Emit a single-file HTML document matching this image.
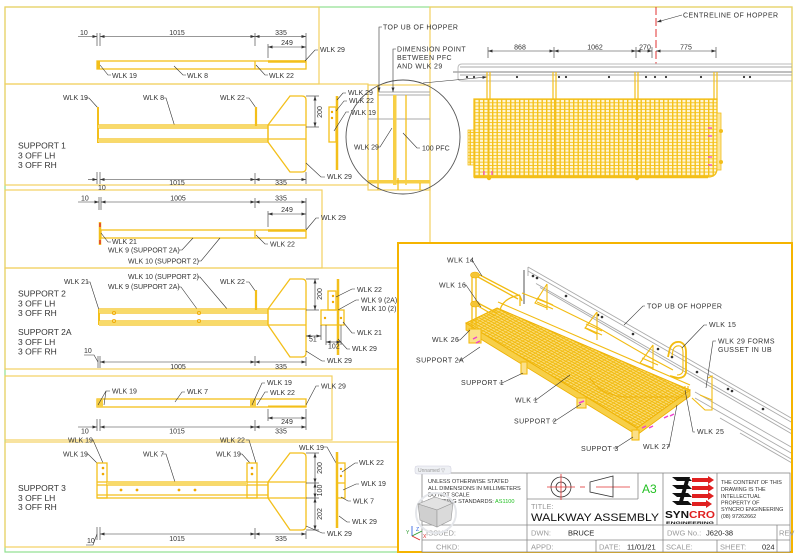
<!DOCTYPE html>
<html><head><meta charset="utf-8"><style>
html,body{margin:0;padding:0;background:#fff;}
svg{display:block;}
.t{font-family:"Liberation Sans",Arial,sans-serif;font-size:7px;fill:#333;}
.s{font-family:"Liberation Sans",Arial,sans-serif;font-size:8.5px;fill:#333;}
.c{text-anchor:middle;}
.i{letter-spacing:0.4px;}
.fr{fill:none;stroke:#f2d061;stroke-width:1.2;}
.m{fill:none;stroke:#f3bf1a;stroke-width:1.3;}
.mf{fill:#f3bf1a;}
.dm{stroke:#333;stroke-width:0.6;fill:none;}
.ld{stroke:#333;stroke-width:0.6;fill:none;}
.gb{stroke:#aaa;stroke-width:0.9;fill:none;}
.tb{stroke:#888;stroke-width:0.8;fill:none;}
</style></head><body>
<svg width="800" height="560" viewBox="0 0 800 560" xmlns="http://www.w3.org/2000/svg">
<defs>
<marker id="ar" viewBox="0 0 6 4" refX="6" refY="2" markerWidth="4.5" markerHeight="3" markerUnits="userSpaceOnUse" orient="auto-start-reverse"><path d="M0,0L6,2L0,4z" fill="#333"/></marker>
<pattern id="grate" width="4.5" height="3.3" patternUnits="userSpaceOnUse" x="474" y="99">
<rect width="4.5" height="3.3" fill="#fff6d6"/>
<rect x="0" y="0" width="1.4" height="3.3" fill="#f5c21a"/>
<rect x="0" y="0" width="4.5" height="0.9" fill="#f5c21a"/>
</pattern>
<pattern id="dA" width="10" height="2.4" patternUnits="userSpaceOnUse" patternTransform="rotate(28)">
<rect width="10" height="1" fill="#f0b90c"/>
</pattern>
<pattern id="dB" width="3.4" height="10" patternUnits="userSpaceOnUse" patternTransform="rotate(56)">
<rect width="0.9" height="10" fill="#f0b90c"/>
</pattern>
</defs>
<rect width="800" height="560" fill="#fff"/>

<rect x="5" y="7" width="787" height="545" fill="none" stroke="#8fe08f" stroke-width="1.2"/>
<rect x="5" y="7" width="314" height="77" class="fr"/>
<rect x="5" y="84" width="363" height="101" class="fr"/>
<rect x="368" y="85" width="62" height="105" class="fr"/>
<rect x="5" y="190" width="317" height="78" class="fr"/>
<rect x="5" y="268" width="393" height="101" class="fr"/>
<rect x="5" y="376" width="327" height="64" class="fr"/>
<rect x="5" y="442" width="393" height="105" class="fr"/>
<rect x="430" y="7" width="362" height="236" class="fr"/>

<!-- BOX 1 -->
<line x1="78" y1="36.5" x2="97" y2="36.5" class="dm" marker-end="url(#ar)"/>
<line x1="97" y1="33" x2="97" y2="46" class="dm" stroke-width="1"/>
<line x1="100" y1="33" x2="100" y2="46" class="dm" stroke-width="1"/>
<line x1="100" y1="36.5" x2="255" y2="36.5" class="dm" marker-start="url(#ar)" marker-end="url(#ar)"/>
<line x1="255" y1="33" x2="255" y2="46" class="dm"/>
<line x1="255" y1="36.5" x2="306" y2="36.5" class="dm" marker-start="url(#ar)" marker-end="url(#ar)"/>
<line x1="306" y1="33" x2="306" y2="60" class="dm"/>
<line x1="268" y1="44" x2="268" y2="58" class="dm"/>
<line x1="268" y1="47" x2="306" y2="47" class="dm" marker-start="url(#ar)" marker-end="url(#ar)"/>
<text x="80" y="35" class="t">10</text>
<text x="177" y="35" class="t c">1015</text>
<text x="281" y="35" class="t c">335</text>
<text x="287" y="45" class="t c">249</text>
<rect x="97" y="61" width="209" height="8" class="m"/>
<rect x="97" y="61" width="3" height="8" class="mf"/>
<line x1="268" y1="61.5" x2="306" y2="61.5" stroke="#f3bf1a" stroke-width="2.5"/>
<line x1="255" y1="61" x2="255" y2="69" class="m"/>
<polyline points="100,65 108,75 111,75" class="ld"/><text x="112" y="78" class="t">WLK 19</text>
<polyline points="174,66 183,75 186,75" class="ld"/><text x="187" y="78" class="t">WLK 8</text>
<polyline points="256,65 265,75 268,75" class="ld"/><text x="269" y="78" class="t">WLK 22</text>
<polyline points="305,61 315,50 318,50" class="ld"/><text x="320" y="52" class="t">WLK 29</text>

<!-- BOX 2 -->
<polyline points="85,98 89,98 98,108" class="ld"/><text x="63" y="100" class="t">WLK 19</text>
<polyline points="163,98 166,98 175,127" class="ld"/><text x="143" y="100" class="t">WLK 8</text>
<polyline points="246,98 249,98 256,108" class="ld"/><text x="220" y="100" class="t">WLK 22</text>
<line x1="98" y1="107" x2="98" y2="143" stroke="#f3bf1a" stroke-width="2"/>
<path d="M98,125H306M98,128H268M98,139H306M98,142H268" class="m"/>
<rect x="98" y="125" width="170" height="3" fill="#f8da6a"/>
<rect x="98" y="139" width="170" height="3" fill="#f8da6a"/>
<line x1="256" y1="107" x2="256" y2="126" stroke="#f3bf1a" stroke-width="2.2"/>
<path d="M268,125L290,96L302,96Q306,96 306,100L306,168Q306,172 302,172L290,172L268,142Z" class="m"/>
<line x1="268" y1="125" x2="268" y2="142" class="m"/>
<line x1="306" y1="96" x2="319" y2="96" class="dm"/>
<line x1="306" y1="127" x2="319" y2="127" class="dm"/>
<line x1="315" y1="96" x2="315" y2="127" class="dm" marker-start="url(#ar)" marker-end="url(#ar)"/>
<text x="322" y="112" class="t c" transform="rotate(-90 322 112)">200</text>
<line x1="337" y1="96" x2="337" y2="170" stroke="#f3bf1a" stroke-width="2.5"/>
<rect x="329" y="107" width="7" height="35" class="m"/>
<circle cx="332" cy="112" r="1.2" fill="#f0a800"/><circle cx="332" cy="118" r="1.2" fill="#f0a800"/>
<polyline points="346,93 343,93 337,100" class="ld"/><text x="348" y="95" class="t">WLK 29</text>
<polyline points="347,101 344,101 336,111" class="ld"/><text x="349" y="103" class="t">WLK 22</text>
<polyline points="349,112 346,112 334,131" class="ld"/><text x="351" y="115" class="t">WLK 19</text>
<polyline points="325,177 321,177 306,163" class="ld"/><text x="327" y="179" class="t">WLK 29</text>
<text x="18" y="148.5" class="s">SUPPORT 1</text>
<text x="18" y="158.5" class="s">3 OFF LH</text>
<text x="18" y="168" class="s">3 OFF RH</text>
<line x1="88" y1="179.5" x2="97" y2="179.5" class="dm" marker-end="url(#ar)"/>
<line x1="97" y1="172" x2="97" y2="184" class="dm" stroke-width="1"/>
<line x1="100" y1="172" x2="100" y2="184" class="dm" stroke-width="1"/>
<line x1="100" y1="179.5" x2="255" y2="179.5" class="dm" marker-start="url(#ar)" marker-end="url(#ar)"/>
<line x1="255" y1="173" x2="255" y2="184" class="dm"/>
<line x1="255" y1="179.5" x2="306" y2="179.5" class="dm" marker-start="url(#ar)" marker-end="url(#ar)"/>
<line x1="306" y1="172" x2="306" y2="184" class="dm"/>
<text x="177" y="185" class="t c">1015</text>
<text x="281" y="185" class="t c">335</text>
<text x="98" y="190" class="t">10</text>

<!-- detail circle -->
<line x1="378" y1="92" x2="430" y2="92" class="gb"/>
<line x1="378" y1="95" x2="430" y2="95" class="gb"/>
<line x1="368" y1="119" x2="430" y2="119" class="gb"/>
<line x1="378" y1="85" x2="378" y2="190" class="m" stroke-width="1"/>
<rect x="393" y="95" width="3.5" height="90" fill="#f7cf45"/>
<line x1="406" y1="95" x2="406" y2="185" class="m" stroke-width="1"/>
<rect x="368" y="180" width="62" height="3.5" fill="#f7cf45"/>
<line x1="420" y1="183" x2="420" y2="190" class="m" stroke-width="1"/>
<line x1="398" y1="178" x2="398" y2="190" class="m" stroke-width="1"/>
<circle cx="403" cy="137" r="57" fill="none" stroke="#555" stroke-width="0.9"/>
<polyline points="376,147 380,147 392,128" class="ld"/><text x="354" y="149.5" class="t">WLK 29</text>
<polyline points="420,148 417,148 403,133" class="ld"/><text x="422" y="150.5" class="t">100 PFC</text>
<polyline points="382,27 379,27 379,92" class="ld" marker-end="url(#ar)"/>
<text x="383" y="29.5" class="t i">TOP UB OF HOPPER</text>
<polyline points="396,49 393,49 393,92" class="ld" marker-end="url(#ar)"/>
<text x="397" y="51.5" class="t i">DIMENSION POINT</text>
<text x="397" y="60" class="t i">BETWEEN PFC</text>
<text x="397" y="68.5" class="t i">AND WLK 29</text>

<!-- top right plan -->
<line x1="656" y1="7" x2="656" y2="64" stroke="#e03030" stroke-width="1" stroke-dasharray="8,3"/>
<polyline points="682,15 657,22" class="ld" marker-end="url(#ar)"/>
<text x="683" y="17.5" class="t i">CENTRELINE OF HOPPER</text>
<line x1="488" y1="47" x2="488" y2="58" class="dm"/>
<line x1="554" y1="47" x2="554" y2="58" class="dm"/>
<line x1="636" y1="47" x2="636" y2="58" class="dm"/>
<line x1="652" y1="47" x2="652" y2="58" class="dm"/>
<line x1="716" y1="47" x2="716" y2="58" class="dm"/>
<line x1="488" y1="51" x2="554" y2="51" class="dm" marker-start="url(#ar)" marker-end="url(#ar)"/>
<line x1="554" y1="51" x2="636" y2="51" class="dm" marker-start="url(#ar)" marker-end="url(#ar)"/>
<line x1="636" y1="51" x2="652" y2="51" class="dm" marker-start="url(#ar)" marker-end="url(#ar)"/>
<line x1="656" y1="51" x2="716" y2="51" class="dm" marker-start="url(#ar)" marker-end="url(#ar)"/>
<text x="520" y="49.5" class="t c">868</text>
<text x="595" y="49.5" class="t c">1062</text>
<text x="645" y="49.5" class="t c">270</text>
<text x="686" y="49.5" class="t c">775</text>
<path d="M792,64H462Q458,64 458,68V78Q458,81 462,81H792" fill="none" stroke="#bbb" stroke-width="1"/>
<line x1="460" y1="67" x2="792" y2="67" class="gb"/>
<line x1="453" y1="72" x2="792" y2="72" stroke="#aaa" stroke-width="1.4"/>
<line x1="460" y1="75" x2="792" y2="75" class="gb"/>
<g fill="#333">
<circle cx="467" cy="77" r="1.1"/><circle cx="474" cy="77" r="1.1"/><circle cx="517" cy="77" r="1.1"/>
<circle cx="559" cy="77" r="1.1"/><circle cx="566" cy="77" r="1.1"/><circle cx="609" cy="77" r="1.1"/>
<circle cx="646" cy="77" r="1.1"/><circle cx="655" cy="77" r="1.1"/><circle cx="666" cy="77" r="1.1"/>
<circle cx="701" cy="77" r="1.1"/><circle cx="744" cy="77" r="1.1"/><circle cx="750" cy="77" r="1.1"/>
</g>
<polyline points="423,83 487,77" class="ld" marker-end="url(#ar)"/>
<rect x="468" y="130" width="6" height="35" fill="url(#grate)" stroke="#f3bf1a" stroke-width="0.8"/>
<path d="M474,99H717V168Q717,177 708,177H474Z" fill="url(#grate)" stroke="#f3bf1a" stroke-width="1.3"/>
<line x1="474" y1="177" x2="708" y2="177" stroke="#f3bf1a" stroke-width="2.4"/>
<rect x="717" y="113" width="4" height="57" fill="#fbe69a" stroke="#f3bf1a" stroke-width="0.8"/>
<circle cx="721" cy="131" r="2" fill="#f3bf1a"/><circle cx="721" cy="162" r="2" fill="#f3bf1a"/>
<g stroke="#f3bf1a" stroke-width="1.2">
<line x1="487" y1="72" x2="487" y2="100"/><line x1="490" y1="72" x2="490" y2="100"/>
<line x1="553" y1="72" x2="553" y2="100"/><line x1="556" y1="72" x2="556" y2="100"/>
<line x1="635" y1="72" x2="635" y2="100"/><line x1="638" y1="72" x2="638" y2="100"/>
<line x1="714" y1="72" x2="714" y2="100"/><line x1="717" y1="72" x2="717" y2="100"/>
<line x1="488.5" y1="99" x2="488.5" y2="177" stroke-width="2"/>
<line x1="555" y1="99" x2="555" y2="177" stroke-width="2"/>
<line x1="637" y1="99" x2="637" y2="177" stroke-width="2"/>
</g>
<circle cx="489" cy="178" r="2.2" fill="#f3bf1a"/><circle cx="637" cy="178" r="2.2" fill="#f3bf1a"/>
<g stroke="#ee44cc" stroke-width="1.2">
<line x1="484" y1="171" x2="484" y2="175"/><line x1="492" y1="171" x2="492" y2="175"/>
<line x1="708" y1="128" x2="712" y2="128"/><line x1="708" y1="136" x2="712" y2="136"/>
<line x1="708" y1="157" x2="712" y2="157"/><line x1="708" y1="165" x2="712" y2="165"/>
</g>

<!-- BOX 3 -->
<line x1="78" y1="202" x2="99" y2="202" class="dm" marker-end="url(#ar)"/>
<line x1="99" y1="197" x2="99" y2="210" class="dm" stroke-width="1"/>
<line x1="101" y1="197" x2="101" y2="210" class="dm" stroke-width="1"/>
<line x1="101" y1="202" x2="255" y2="202" class="dm" marker-start="url(#ar)" marker-end="url(#ar)"/>
<line x1="255" y1="198" x2="255" y2="208" class="dm"/>
<line x1="255" y1="202" x2="306" y2="202" class="dm" marker-start="url(#ar)" marker-end="url(#ar)"/>
<line x1="306" y1="198" x2="306" y2="229" class="dm"/>
<line x1="268" y1="211" x2="268" y2="227" class="dm"/>
<line x1="268" y1="214" x2="306" y2="214" class="dm" marker-start="url(#ar)" marker-end="url(#ar)"/>
<text x="81" y="200.5" class="t">10</text>
<text x="178" y="200.5" class="t c">1005</text>
<text x="281" y="200.5" class="t c">335</text>
<text x="287" y="212" class="t c">249</text>
<rect x="101" y="230" width="205" height="8" class="m"/>
<line x1="268" y1="230.5" x2="306" y2="230.5" stroke="#f3bf1a" stroke-width="2.5"/>
<line x1="255" y1="230" x2="255" y2="238" class="m"/>
<line x1="100" y1="222" x2="100" y2="245" stroke="#f3bf1a" stroke-width="2.5"/>
<line x1="100" y1="223" x2="100" y2="227" stroke="#e03030" stroke-width="1.5"/>
<line x1="100" y1="240" x2="100" y2="244" stroke="#e03030" stroke-width="1.5"/>
<polyline points="101,233 108,242 111,242" class="ld"/><text x="112" y="244" class="t">WLK 21</text>
<polyline points="179,250 182,250 193,238" class="ld"/><text x="108" y="252.5" class="t">WLK 9 (SUPPORT 2A)</text>
<polyline points="198,261 201,261 220,238" class="ld"/><text x="128" y="263.5" class="t">WLK 10 (SUPPORT 2)</text>
<polyline points="256,235 265,244 268,244" class="ld"/><text x="270" y="246.5" class="t">WLK 22</text>
<polyline points="306,230 316,218 319,218" class="ld"/><text x="321" y="220" class="t">WLK 29</text>

<!-- BOX 4 -->
<polyline points="87,282 90,282 99,310" class="ld"/><text x="64" y="284" class="t">WLK 21</text>
<polyline points="197,277 200,277 228,310" class="ld"/><text x="128" y="279" class="t">WLK 10 (SUPPORT 2)</text>
<polyline points="178,287 181,287 200,313" class="ld"/><text x="108" y="289" class="t">WLK 9 (SUPPORT 2A)</text>
<polyline points="246,282 249,282 256,292" class="ld"/><text x="220" y="284" class="t">WLK 22</text>
<line x1="99" y1="309" x2="99" y2="325" stroke="#f3bf1a" stroke-width="2"/>
<path d="M99,309H306M99,313H268M99,321H268M99,325H306" class="m"/>
<rect x="99" y="309" width="169" height="4" fill="#f8da6a"/>
<rect x="99" y="321" width="169" height="4" fill="#f8da6a"/>
<g fill="none" stroke="#f0a800" stroke-width="0.8">
<circle cx="114" cy="313" r="1.6"/><circle cx="114" cy="321" r="1.6"/>
<circle cx="199" cy="313" r="1.6"/><circle cx="199" cy="321" r="1.6"/>
</g>
<line x1="256" y1="290" x2="256" y2="310" stroke="#f3bf1a" stroke-width="2.2"/>
<path d="M268,309L290,279L302,279Q306,279 306,283L306,353Q306,357 302,357L290,357L268,325Z" class="m"/>
<line x1="268" y1="309" x2="268" y2="325" class="m"/>
<line x1="306" y1="279" x2="319" y2="279" class="dm"/>
<line x1="306" y1="310" x2="319" y2="310" class="dm"/>
<line x1="315" y1="279" x2="315" y2="310" class="dm" marker-start="url(#ar)" marker-end="url(#ar)"/>
<text x="322" y="294" class="t c" transform="rotate(-90 322 294)">200</text>
<line x1="338" y1="279" x2="338" y2="355" stroke="#f3bf1a" stroke-width="2.5"/>
<rect x="328" y="291" width="8" height="19" class="m"/>
<rect x="321" y="310" width="23" height="15" class="m"/>
<g fill="#f0a800"><circle cx="333" cy="296" r="1.2"/><circle cx="333" cy="302" r="1.2"/><circle cx="325" cy="318" r="1.2"/><circle cx="341" cy="318" r="1.2"/></g>
<line x1="321" y1="325" x2="321" y2="340" class="dm"/>
<line x1="306" y1="336" x2="321" y2="336" class="dm" marker-start="url(#ar)" marker-end="url(#ar)"/>
<text x="309" y="341.5" class="t">51</text>
<line x1="326" y1="325" x2="326" y2="345" class="dm"/>
<line x1="341" y1="325" x2="341" y2="345" class="dm"/>
<line x1="326" y1="342" x2="341" y2="342" class="dm" marker-start="url(#ar)" marker-end="url(#ar)"/>
<text x="328" y="348.5" class="t">102</text>
<polyline points="355,289 352,289 336,297" class="ld"/><text x="357" y="292" class="t">WLK 22</text>
<polyline points="359,300 356,300 338,310" class="ld"/><text x="361" y="302.5" class="t">WLK 9 (2A)</text>
<text x="361" y="311" class="t">WLK 10 (2)</text>
<polyline points="355,333 352,333 343,322" class="ld"/><text x="357" y="335" class="t">WLK 21</text>
<polyline points="350,349 347,349 338,339" class="ld"/><text x="352" y="351" class="t">WLK 29</text>
<polyline points="325,361 322,361 306,351" class="ld"/><text x="327" y="363" class="t">WLK 29</text>
<text x="18" y="296.5" class="s">SUPPORT 2</text>
<text x="18" y="306.5" class="s">3 OFF LH</text>
<text x="18" y="316" class="s">3 OFF RH</text>
<text x="18" y="335" class="s">SUPPORT 2A</text>
<text x="18" y="345" class="s">3 OFF LH</text>
<text x="18" y="354.5" class="s">3 OFF RH</text>
<polyline points="84,355 94,355 98,362" class="ld"/>
<text x="84" y="353" class="t">10</text>
<line x1="98" y1="356" x2="98" y2="368" class="dm" stroke-width="1"/>
<line x1="100" y1="356" x2="100" y2="368" class="dm" stroke-width="1"/>
<line x1="100" y1="362" x2="255" y2="362" class="dm" marker-start="url(#ar)" marker-end="url(#ar)"/>
<line x1="255" y1="356" x2="255" y2="366" class="dm"/>
<line x1="255" y1="362" x2="306" y2="362" class="dm" marker-start="url(#ar)" marker-end="url(#ar)"/>
<line x1="306" y1="357" x2="306" y2="366" class="dm"/>
<text x="178" y="369" class="t c">1005</text>
<text x="281" y="369" class="t c">335</text>

<!-- BOX 5 -->
<rect x="97" y="399" width="209" height="8" class="m"/>
<rect x="97" y="399" width="6" height="8" fill="#f7cf45"/>
<rect x="250" y="399" width="6" height="8" fill="#f7cf45"/>
<line x1="268" y1="406.5" x2="306" y2="406.5" stroke="#f3bf1a" stroke-width="2"/>
<polyline points="110,391 106,391 98,405" class="ld"/><polyline points="106,391 104,405" class="ld"/>
<text x="112" y="393.5" class="t">WLK 19</text>
<polyline points="185,392 182,392 175,402" class="ld"/><text x="187" y="394" class="t">WLK 7</text>
<polyline points="265,383 262,383 252,405" class="ld"/><text x="267" y="385" class="t">WLK 19</text>
<polyline points="268,392 265,392 257,405" class="ld"/><text x="270" y="395" class="t">WLK 22</text>
<polyline points="319,386 316,386 306,405" class="ld"/><text x="321" y="388.5" class="t">WLK 29</text>
<line x1="268" y1="409" x2="268" y2="421" class="dm"/>
<line x1="306" y1="409" x2="306" y2="430" class="dm"/>
<line x1="268" y1="418" x2="306" y2="418" class="dm" marker-start="url(#ar)" marker-end="url(#ar)"/>
<text x="287" y="424" class="t c">249</text>
<line x1="78" y1="427" x2="97" y2="427" class="dm" marker-end="url(#ar)"/>
<line x1="97" y1="419" x2="97" y2="431" class="dm" stroke-width="1"/>
<line x1="100" y1="419" x2="100" y2="431" class="dm" stroke-width="1"/>
<line x1="100" y1="427" x2="255" y2="427" class="dm" marker-start="url(#ar)" marker-end="url(#ar)"/>
<line x1="255" y1="420" x2="255" y2="431" class="dm"/>
<line x1="255" y1="427" x2="306" y2="427" class="dm" marker-start="url(#ar)" marker-end="url(#ar)"/>
<text x="81" y="433.5" class="t">10</text>
<text x="177" y="433.5" class="t c">1015</text>
<text x="281" y="433.5" class="t c">335</text>

<!-- BOX 6 -->
<polyline points="90,440 93,440 103,463" class="ld"/><text x="68" y="442.5" class="t">WLK 19</text>
<polyline points="246,440 249,440 256,463" class="ld"/><text x="220" y="442.5" class="t">WLK 22</text>
<polyline points="85,454 88,454 97,463" class="ld"/><text x="63" y="456.5" class="t">WLK 19</text>
<polyline points="163,454 166,454 175,482" class="ld"/><text x="143" y="456.5" class="t">WLK 7</text>
<polyline points="239,454 242,454 250,463" class="ld"/><text x="216" y="456.5" class="t">WLK 19</text>
<polyline points="323,447 327,447 336,463" class="ld"/><text x="299" y="450" class="t">WLK 19</text>
<rect x="97" y="463" width="10" height="35" class="m"/>
<rect x="247" y="463" width="10" height="35" class="m"/>
<path d="M97,482H306M97,485H268M97,495H268M97,498H306" class="m"/>
<rect x="107" y="482" width="140" height="3" fill="#f8da6a"/>
<g fill="#f0a800">
<circle cx="103" cy="468" r="1.3"/><circle cx="103" cy="474" r="1.3"/>
<circle cx="252" cy="468" r="1.3"/><circle cx="252" cy="474" r="1.3"/>
<circle cx="121" cy="490" r="1.4"/><circle cx="137" cy="490" r="1.4"/>
<circle cx="179" cy="490" r="1.4"/><circle cx="195" cy="490" r="1.4"/>
</g>
<path d="M268,482L290,453L302,453Q306,453 306,457L306,526Q306,530 302,530L290,530L268,498Z" class="m"/>
<line x1="268" y1="482" x2="268" y2="498" class="m"/>
<line x1="306" y1="453" x2="319" y2="453" class="dm"/>
<line x1="306" y1="483" x2="319" y2="483" class="dm"/>
<line x1="306" y1="498" x2="319" y2="498" class="dm"/>
<line x1="306" y1="530" x2="319" y2="530" class="dm"/>
<line x1="315" y1="453" x2="315" y2="483" class="dm" marker-start="url(#ar)" marker-end="url(#ar)"/>
<line x1="315" y1="483" x2="315" y2="498" class="dm" marker-start="url(#ar)" marker-end="url(#ar)"/>
<line x1="315" y1="498" x2="315" y2="530" class="dm" marker-start="url(#ar)" marker-end="url(#ar)"/>
<text x="322" y="468" class="t c" transform="rotate(-90 322 468)">200</text>
<text x="322" y="490.5" class="t c" transform="rotate(-90 322 490.5)">100</text>
<text x="322" y="514" class="t c" transform="rotate(-90 322 514)">202</text>
<line x1="337" y1="452" x2="337" y2="528" stroke="#f3bf1a" stroke-width="2.5"/>
<rect x="337" y="463" width="8" height="35" class="m"/>
<line x1="337" y1="483" x2="345" y2="483" class="m" stroke-width="0.8"/>
<circle cx="341" cy="469" r="1.2" fill="#f0a800"/><circle cx="341" cy="476" r="1.2" fill="#f0a800"/>
<polyline points="358,463 355,463 342,472" class="ld"/><text x="359" y="465" class="t">WLK 22</text>
<polyline points="359,484 356,484 343,490" class="ld"/><text x="361" y="486" class="t">WLK 19</text>
<polyline points="351,501 348,501 341,497" class="ld"/><text x="353" y="503.5" class="t">WLK 7</text>
<polyline points="350,522 347,522 339,516" class="ld"/><text x="352" y="524" class="t">WLK 29</text>
<polyline points="325,533 322,533 306,526" class="ld"/><text x="327" y="536" class="t">WLK 29</text>
<text x="18" y="491" class="s">SUPPORT 3</text>
<text x="18" y="501" class="s">3 OFF LH</text>
<text x="18" y="510" class="s">3 OFF RH</text>
<polyline points="86,545 93,545 97,534" class="ld"/>
<text x="87" y="543" class="t">10</text>
<line x1="97" y1="527" x2="97" y2="540" class="dm" stroke-width="1"/>
<line x1="100" y1="527" x2="100" y2="540" class="dm" stroke-width="1"/>
<line x1="100" y1="534" x2="255" y2="534" class="dm" marker-start="url(#ar)" marker-end="url(#ar)"/>
<line x1="255" y1="528" x2="255" y2="539" class="dm"/>
<line x1="255" y1="534" x2="306" y2="534" class="dm" marker-start="url(#ar)" marker-end="url(#ar)"/>
<line x1="306" y1="531" x2="306" y2="539" class="dm"/>
<text x="177" y="541" class="t c">1015</text>
<text x="281" y="541" class="t c">335</text>

<!-- ISO VIEW -->
<g class="gb">
<line x1="528" y1="267" x2="792" y2="418.5"/>
<line x1="528" y1="271" x2="792" y2="422.5"/>
<line x1="536" y1="283.5" x2="792" y2="430.5"/>
<line x1="540" y1="287.5" x2="792" y2="434"/>
<line x1="695" y1="392" x2="792" y2="447.5"/>
<line x1="695" y1="398" x2="792" y2="453.5"/>
<line x1="720" y1="418" x2="792" y2="459.5"/>
<line x1="740" y1="433" x2="792" y2="463"/>
<line x1="528" y1="267" x2="528" y2="276"/>
</g>
<line x1="524" y1="270" x2="524" y2="304" stroke="#555" stroke-width="1"/>
<g fill="#333">
<circle cx="533" cy="276" r="1.3"/><circle cx="537" cy="278" r="1.3"/><circle cx="566" cy="296" r="1.3"/>
<circle cx="598" cy="315" r="1.3"/><circle cx="602" cy="317" r="1.3"/><circle cx="633" cy="334" r="1.3"/>
<circle cx="658" cy="349" r="1.3"/><circle cx="672" cy="357" r="1.3"/><circle cx="697" cy="372" r="1.3"/>
<circle cx="728" cy="389" r="1.3"/><circle cx="732" cy="391" r="1.3"/><circle cx="763" cy="409" r="1.3"/>
</g>
<g stroke="#f2bb12" stroke-width="1.1" fill="none">
<path d="M522,293L550,304L597,327L647,356L673,370"/>
<line x1="498" y1="302" x2="690" y2="385"/>
<path d="M547,284V310M547,284L535,303L547,308"/>
<path d="M537,298L553,305M537,302L553,309"/>
<path d="M597,312V340M597,312L585,328L597,334"/>
<path d="M586,324L602,331M586,328L602,335"/>
<path d="M653,345V370M653,345L640,363L653,368"/>
<path d="M642,358L658,365"/>
<path d="M668,357L670,348Q673,341 680,342Q686,344 686,352V372Q685,378 678,378L670,376" stroke-width="1.8"/>
<path d="M672,356L673,350Q675,345 680,346Q683,347 683,353V371Q682,375 677,375"/>
<path d="M708,378L712,376V410L705,410L692,398"/>
<path d="M700,395L712,400"/>
<line x1="685" y1="386" x2="685" y2="400"/>
<line x1="688" y1="386" x2="688" y2="398"/>
</g>
<polygon points="466,323 637,428 637,435 466,330" fill="#f7cf48" stroke="#eeb000" stroke-width="0.8"/>
<polygon points="637,428 690,390 690,396 637,435" fill="#f7cf48" stroke="#eeb000" stroke-width="0.8"/>
<polygon points="497,308 690,390 637,428 466,323" fill="#fadb76" stroke="#eeb000" stroke-width="1"/>
<polygon points="497,308 690,390 637,428 466,323" fill="url(#dA)"/>
<polygon points="497,308 690,390 637,428 466,323" fill="url(#dB)" opacity="0.8"/>
<path d="M590,378Q600,395 625,397H686" fill="none" stroke="#eeb000" stroke-width="0.8"/>
<g stroke="#f2bb12" stroke-width="1.3" fill="none">
<line x1="472" y1="276" x2="472" y2="333"/>
<line x1="476" y1="276" x2="476" y2="326"/>
<path d="M478,274L520,296L522,301"/>
<path d="M478,277L518,299"/>
<path d="M478,303L497,313"/>
<path d="M478,306L495,316"/>
<path d="M500,310Q503,298 520,295"/>
<line x1="520" y1="296" x2="520" y2="306"/>
</g>
<ellipse cx="475" cy="275" rx="4.5" ry="3" fill="#f5c535" stroke="#eeb000" stroke-width="0.6"/>
<ellipse cx="475" cy="304" rx="4.5" ry="3" fill="#f5c535" stroke="#eeb000" stroke-width="0.6"/>
<g stroke="#f2bb12" stroke-width="1.1" fill="#fbe08a">
<rect x="469" y="329" width="12" height="14"/>
<rect x="521" y="362" width="6" height="12"/>
<rect x="577" y="398" width="9" height="10"/>
<rect x="632" y="430" width="7" height="10"/>
</g>
<g stroke="#ee44cc" stroke-width="1.5">
<line x1="473" y1="339" x2="477" y2="337"/><line x1="476" y1="343" x2="480" y2="341"/>
<line x1="579" y1="403" x2="584" y2="401"/>
<line x1="642" y1="428" x2="646" y2="426"/><line x1="649" y1="428" x2="653" y2="426"/>
<line x1="664" y1="418" x2="668" y2="416"/><line x1="670" y1="416" x2="674" y2="414"/>
</g>
<polyline points="470,260 472,260 482,276" class="ld"/><text x="447" y="262.5" class="t i">WLK 14</text>
<polyline points="464,285 466,285 481,307" class="ld"/><text x="439" y="287.5" class="t i">WLK 16</text>
<polyline points="457,340 460,340 470,330" class="ld"/><text x="432" y="342" class="t i">WLK 26</text>
<polyline points="458,360 461,360 480,347" class="ld"/><text x="416" y="362.5" class="t i">SUPPORT 2A</text>
<polyline points="499,383 502,383 523,373" class="ld"/><text x="461" y="385" class="t i">SUPPORT 1</text>
<polyline points="533,400 536,400 570,375" class="ld"/><text x="515" y="402.5" class="t i">WLK 1</text>
<polyline points="552,421 555,421 581,404" class="ld"/><text x="514" y="423.5" class="t i">SUPPORT 2</text>
<polyline points="613,448 616,448 633,437" class="ld"/><text x="581" y="451" class="t i">SUPPOT 3</text>
<polyline points="667,447 669,447 677,405" class="ld"/><text x="643" y="449" class="t i">WLK 27</text>
<polyline points="695,432 693,432 685,390" class="ld"/><text x="697" y="434" class="t i">WLK 25</text>
<polyline points="645,306 643,306 624,325" class="ld"/><text x="647" y="308.5" class="t i">TOP UB OF HOPPER</text>
<polyline points="707,325 704,325 682,348" class="ld"/><text x="709" y="327" class="t i">WLK 15</text>
<polyline points="716,341 713,341 706,388" class="ld"/><text x="718" y="343.5" class="t i">WLK 29 FORMS</text>
<text x="718" y="352" class="t i">GUSSET IN UB</text>

<rect x="398" y="243" width="394" height="309" fill="none" stroke="#f5b400" stroke-width="2"/>

<!-- TITLE BLOCK -->
<rect x="422" y="473" width="368" height="79" fill="#fff" stroke="#888" stroke-width="0.8"/>
<g class="tb">
<line x1="527" y1="473" x2="527" y2="552"/>
<line x1="527" y1="499" x2="638" y2="499"/>
<line x1="638" y1="473" x2="638" y2="499"/>
<line x1="663" y1="473" x2="663" y2="552"/>
<line x1="717" y1="473" x2="717" y2="525"/>
<line x1="717" y1="540" x2="717" y2="552"/>
<line x1="422" y1="525" x2="790" y2="525"/>
<line x1="422" y1="540" x2="790" y2="540"/>
<line x1="596" y1="540" x2="596" y2="552"/>
<line x1="777" y1="525" x2="777" y2="552"/>
</g>
<rect x="415" y="466" width="36" height="8" rx="2" fill="#eef0f4" stroke="#ccd" stroke-width="0.5"/>
<text x="418" y="472" font-family="Liberation Sans, sans-serif" font-size="5px" fill="#999">Unnamed ▽</text>
<text x="428" y="483" font-family="Liberation Sans, sans-serif" font-size="5.6px" fill="#333">UNLESS OTHERWISE STATED</text>
<text x="428" y="490" font-family="Liberation Sans, sans-serif" font-size="5.6px" fill="#333">ALL DIMENSIONS IN MILLIMETERS</text>
<text x="428" y="496.5" font-family="Liberation Sans, sans-serif" font-size="5.6px" fill="#333">DO NOT SCALE</text>
<text x="428" y="503" font-family="Liberation Sans, sans-serif" font-size="5.6px" fill="#333">DRAFTING STANDARDS: <tspan fill="#22c022">AS1100</tspan></text>
<circle cx="561" cy="487" r="10" fill="none" stroke="#333" stroke-width="0.8"/>
<circle cx="561" cy="487" r="5" fill="none" stroke="#333" stroke-width="0.8"/>
<line x1="547" y1="487" x2="575" y2="487" stroke="#e03030" stroke-width="0.8"/>
<line x1="561" y1="474" x2="561" y2="500" stroke="#e03030" stroke-width="0.8"/>
<line x1="580" y1="487" x2="585" y2="487" stroke="#e03030" stroke-width="0.8"/>
<line x1="596" y1="487" x2="630" y2="487" stroke="#e03030" stroke-width="0.8"/>
<polygon points="590,482 613,476 613,497 590,492" fill="none" stroke="#333" stroke-width="0.8"/>
<text x="642" y="493" font-family="Liberation Sans, sans-serif" font-size="12px" fill="#22c022">A3</text>
<text x="531" y="509" font-family="Liberation Sans, sans-serif" font-size="7.5px" fill="#999">TITLE:</text>
<text x="531" y="521" font-family="Liberation Sans, sans-serif" font-size="11px" fill="#111" textLength="128" lengthAdjust="spacingAndGlyphs">WALKWAY ASSEMBLY</text>
<g fill="#111">
<polygon points="672,477 688,477 692,481 677,481"/>
<polygon points="672,485 688,485 692,489 677,489"/>
<polygon points="672,493 688,493 692,497 677,497"/>
<polygon points="672,501 688,501 692,505 677,505"/>
<polygon points="686,477 690,477 682,505 678,505"/>
</g>
<g fill="#e02020">
<polygon points="692,478 708,478 708,476 714,480 708,484 708,482 692,482"/>
<polygon points="692,486 708,486 708,484 714,488 708,492 708,490 692,490"/>
<polygon points="692,494 708,494 708,492 714,496 708,500 708,498 692,498"/>
<polygon points="692,502 706,502 706,500 712,504 706,508 706,506 692,506"/>
</g>
<text x="665" y="518" font-family="Liberation Sans, sans-serif" font-size="10px" font-weight="bold" fill="#111" textLength="50" lengthAdjust="spacingAndGlyphs">SYN<tspan fill="#e02020">CRO</tspan></text>
<text x="666" y="524" font-family="Liberation Sans, sans-serif" font-size="4px" font-weight="bold" fill="#111" textLength="48" lengthAdjust="spacingAndGlyphs">ENGINEERING</text>
<g font-family="Liberation Sans, sans-serif" font-size="5.4px" fill="#333">
<text x="721" y="484">THE CONTENT OF THIS</text>
<text x="721" y="491">DRAWING IS THE</text>
<text x="721" y="498">INTELLECTUAL</text>
<text x="721" y="504.5">PROPERTY OF</text>
<text x="721" y="511">SYNCRO ENGINEERING</text>
<text x="721" y="518">(08) 97262662</text>
</g>
<g font-family="Liberation Sans, sans-serif" font-size="7.5px">
<text x="426" y="535.5" fill="#999">ISSUED:</text>
<text x="436" y="549.5" fill="#999">CHKD:</text>
<text x="531" y="535.5" fill="#999">DWN:</text>
<text x="568" y="535.5" fill="#222">BRUCE</text>
<text x="531" y="549.5" fill="#999">APPD:</text>
<text x="599" y="549.5" fill="#999">DATE:</text>
<text x="627" y="549.5" fill="#222">11/01/21</text>
<text x="667" y="535.5" fill="#999">DWG No.:</text>
<text x="706" y="535.5" fill="#222">J620-38</text>
<text x="666" y="549.5" fill="#999">SCALE:</text>
<text x="720" y="549.5" fill="#999">SHEET:</text>
<text x="762" y="549.5" fill="#222">024</text>
<text x="779" y="535.5" fill="#999">REV</text>
</g>
<circle cx="436" cy="513" r="20" fill="none" stroke="#e4e6ea" stroke-width="2"/>
<polygon points="435,497 453,503 437,510 418,504" fill="#e2e2e2" stroke="#999" stroke-width="0.6"/>
<polygon points="418,504 437,510 437,527 420,520" fill="#cfcfcf" stroke="#999" stroke-width="0.6"/>
<polygon points="437,510 453,503 451,520 437,527" fill="#dadada" stroke="#999" stroke-width="0.6"/>
<line x1="412" y1="536" x2="422" y2="531" stroke="#2a9a2a" stroke-width="0.8"/>
<line x1="412" y1="536" x2="412" y2="526" stroke="#2255dd" stroke-width="0.8"/>
<line x1="412" y1="536" x2="420" y2="540" stroke="#dd2222" stroke-width="0.8"/>
<text x="406" y="534" font-family="Liberation Sans, sans-serif" font-size="5px" fill="#2a9a2a">Y</text>
<text x="416" y="531" font-family="Liberation Sans, sans-serif" font-size="5px" fill="#2255dd">Z</text>
<text x="423" y="538" font-family="Liberation Sans, sans-serif" font-size="5px" fill="#dd2222">X</text>
</svg>
</body></html>
